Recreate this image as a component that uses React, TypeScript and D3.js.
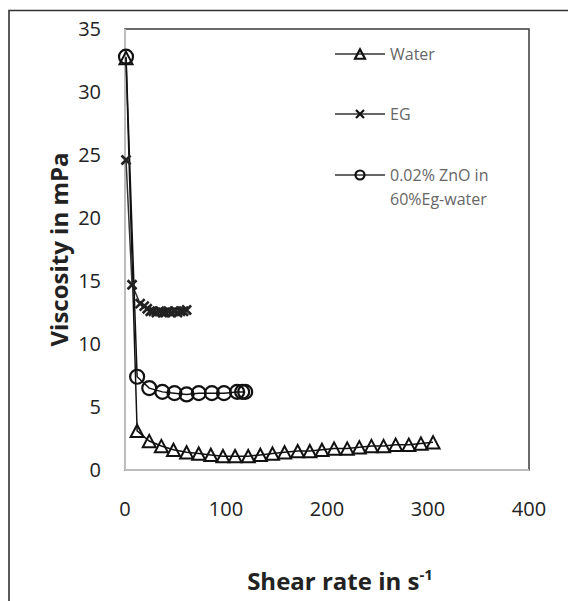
import React, { useEffect, useRef } from 'react'
import * as d3 from 'd3'

// data
const waterX = [1, 12, 24, 36, 48, 61, 73, 85, 97, 109, 122, 134, 146, 158, 171, 183, 195, 207, 220, 232, 244, 256, 268, 281, 293, 305]
const waterY = [32.7, 3.1, 2.3, 1.9, 1.6, 1.4, 1.3, 1.2, 1.1, 1.1, 1.1, 1.2, 1.3, 1.4, 1.5, 1.5, 1.6, 1.7, 1.7, 1.8, 1.9, 1.9, 2.0, 2.0, 2.1, 2.2]

const egX = [1, 7, 15, 19, 22, 25, 28, 31, 34, 37, 40, 43, 46, 49, 52, 55, 58, 61]
const egY = [24.6, 14.7, 13.2, 13.0, 12.8, 12.6, 12.6, 12.5, 12.6, 12.5, 12.5, 12.6, 12.5, 12.6, 12.5, 12.6, 12.6, 12.7]

const znoX = [1, 12, 24, 37, 49, 61, 73, 86, 98, 111, 116, 119]
const znoY = [32.8, 7.4, 6.5, 6.2, 6.1, 6.0, 6.1, 6.1, 6.1, 6.2, 6.2, 6.2]

const xTicks = [0, 100, 200, 300, 400]
const yTicks = [0, 5, 10, 15, 20, 25, 30, 35]
const legendLabels = [['Water'], ['EG'], ['0.02% ZnO in', '60%Eg-water']]

const FONT = '"Open Sans", sans-serif'

function zip(xs: number[], ys: number[]) {
  return xs.map((x, i) => [x, ys[i]] as [number, number])
}

function triPath(cx: number, cy: number, s: number) {
  const h = s * 0.95
  return `M${cx},${cy - h / 2}L${cx + s / 2},${cy + h / 2}L${cx - s / 2},${cy + h / 2}Z`
}

function crossPath(cx: number, cy: number, s: number) {
  const r = s / 2
  return `M${cx - r},${cy - r}L${cx + r},${cy + r}M${cx - r},${cy + r}L${cx + r},${cy - r}`
}

function drawChart(el: SVGSVGElement) {
  const svg = d3.select(el)
  svg.selectAll('*').remove()

  const left = 125, right = 529, top = 29, bottom = 470

  const x = d3.scaleLinear().domain([0, 400]).range([left, right])
  const y = d3.scaleLinear().domain([0, 35]).range([bottom, top])

  // chart frame
  svg.append('path')
    .attr('d', `M9,605V10.5H570`)
    .attr('fill', 'none')
    .attr('stroke', '#333')
    .attr('stroke-width', 1.6)

  // plot area border
  svg.append('rect')
    .attr('x', left).attr('y', top)
    .attr('width', right - left).attr('height', bottom - top)
    .attr('fill', 'none')
    .attr('stroke', '#3a3a3a')
    .attr('stroke-width', 1.5)

  // axis lines
  svg.append('line')
    .attr('x1', left).attr('x2', left).attr('y1', top).attr('y2', bottom)
    .attr('stroke', '#bdbdbd').attr('stroke-width', 2)
  svg.append('line')
    .attr('x1', left).attr('x2', right).attr('y1', bottom).attr('y2', bottom)
    .attr('stroke', '#bdbdbd').attr('stroke-width', 2)

  svg.selectAll('.ytick')
    .data(yTicks)
    .enter()
      .append('text')
      .attr('class', 'ytick')
      .attr('x', 101)
      .attr('y', d => y(d))
      .attr('dy', '0.36em')
      .attr('text-anchor', 'end')
      .attr('font-family', FONT)
      .attr('font-size', 20)
      .attr('fill', '#222')
      .text(d => d)

  svg.selectAll('.xtick')
    .data(xTicks)
    .enter()
      .append('text')
      .attr('class', 'xtick')
      .attr('x', d => x(d))
      .attr('y', 516)
      .attr('text-anchor', 'middle')
      .attr('font-family', FONT)
      .attr('font-size', 20)
      .attr('fill', '#222')
      .text(d => d)

  svg.append('text')
    .attr('transform', `translate(68,${(top + bottom) / 2}) rotate(-90)`)
    .attr('text-anchor', 'middle')
    .attr('font-family', FONT)
    .attr('font-weight', 'bold')
    .attr('font-size', 24)
    .attr('fill', '#222')
    .text('Viscosity in mPa')

  const xt = svg.append('text')
    .attr('x', 340)
    .attr('y', 590)
    .attr('text-anchor', 'middle')
    .attr('font-family', FONT)
    .attr('font-weight', 'bold')
    .attr('font-size', 24)
    .attr('fill', '#222')
  xt.append('tspan').text('Shear rate in s')
  xt.append('tspan').attr('dy', -10).attr('font-size', 15).text('-1')

  const line = d3.line<[number, number]>()
    .x(d => x(d[0]))
    .y(d => y(d[1]))

  const water = zip(waterX, waterY)
  const eg = zip(egX, egY)
  const zno = zip(znoX, znoY)

  svg.append('path').attr('d', line(water)).attr('fill', 'none').attr('stroke', '#111').attr('stroke-width', 1.5)
  svg.append('path').attr('d', line(eg)).attr('fill', 'none').attr('stroke', '#333').attr('stroke-width', 1.5)
  svg.append('path').attr('d', line(zno)).attr('fill', 'none').attr('stroke', '#111').attr('stroke-width', 1.5)

  svg.selectAll('.tri')
    .data(water)
    .enter()
      .append('path')
      .attr('class', 'tri')
      .attr('d', d => triPath(x(d[0]), y(d[1]), 13))
      .attr('fill', 'none')
      .attr('stroke', '#111')
      .attr('stroke-width', 2)

  svg.selectAll('.cross')
    .data(eg)
    .enter()
      .append('path')
      .attr('class', 'cross')
      .attr('d', d => crossPath(x(d[0]), y(d[1]), 9))
      .attr('fill', 'none')
      .attr('stroke', '#222')
      .attr('stroke-width', 2.6)

  svg.selectAll('.circ')
    .data(zno)
    .enter()
      .append('circle')
      .attr('class', 'circ')
      .attr('cx', d => x(d[0]))
      .attr('cy', d => y(d[1]))
      .attr('r', 7)
      .attr('fill', 'none')
      .attr('stroke', '#111')
      .attr('stroke-width', 2.2)

  // legend
  const legendY = [54, 114, 175]
  const lg = svg.selectAll('.legend')
    .data(legendLabels)
    .enter()
      .append('g')
      .attr('class', 'legend')
      .attr('transform', (d, i) => `translate(0,${legendY[i]})`)

  lg.append('line')
    .attr('x1', 335).attr('x2', 385).attr('y1', 0).attr('y2', 0)
    .attr('stroke', '#333').attr('stroke-width', 1.5)

  lg.append('path')
    .attr('d', (d, i) => i === 0 ? triPath(360, 0, 10) : i === 1 ? crossPath(360, 0, 8) : '')
    .attr('fill', 'none')
    .attr('stroke', '#111')
    .attr('stroke-width', 2.2)
  lg.filter((d, i) => i === 2)
    .append('circle')
    .attr('cx', 360).attr('cy', 0).attr('r', 4.5)
    .attr('fill', 'none').attr('stroke', '#111').attr('stroke-width', 2.2)

  lg.selectAll('text')
    .data(d => d)
    .enter()
      .append('text')
      .attr('x', 390)
      .attr('y', (d, i) => i * 24)
      .attr('dy', '0.35em')
      .attr('font-family', FONT)
      .attr('font-size', 16)
      .attr('fill', '#666')
      .text(d => d)
}

export default function App() {
  const ref = useRef<SVGSVGElement>(null)

  useEffect(() => {
    if (ref.current) drawChart(ref.current)
  }, [])

  return (
    <svg ref={ref} width={568} height={601}
      style={{ position: 'absolute', left: 0, top: 0, background: '#fff' }} />
  )
}
